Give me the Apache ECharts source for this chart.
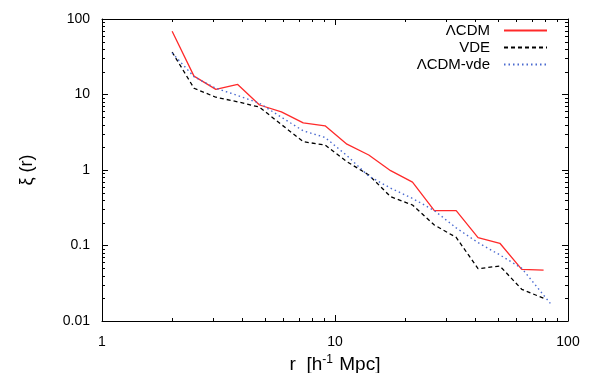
<!DOCTYPE html>
<html>
<head>
<meta charset="utf-8">
<script src="https://cdn.jsdelivr.net/npm/echarts@6.0.0/dist/echarts.min.js"></script>
<style>
html,body{margin:0;padding:0;background:#fff;}
#chart{width:594px;height:373px;}
</style>
</head>
<body>
<div id="chart"></div>
<script>
// r bins [h^-1 Mpc]
var rBins = [2, 2.482, 3.080, 3.823, 4.744, 5.887, 7.306, 9.067, 11.25, 13.96, 17.33, 21.51, 26.69, 33.12, 41.10, 51.01, 63.30, 78.56];
var xiLCDM = [69, 17.5, 11.7, 13.6, 7.26, 5.9, 4.2, 3.85, 2.2, 1.58, 0.98, 0.69, 0.289, 0.289, 0.127, 0.107, 0.0484, 0.0473];
var xiVDE = [36.5, 12.1, 9.2, 8.0, 6.8, 4.0, 2.37, 2.14, 1.29, 0.86, 0.443, 0.344, 0.187, 0.128, 0.0493, 0.0535, 0.0263, 0.0200];
var rBinsVde = [2, 2.482, 3.080, 3.823, 4.744, 5.887, 7.306, 9.067, 11.25, 13.96, 17.33, 21.51, 26.69, 33.12, 41.10, 51.01, 63.30, 84];
var xiLCDMvde = [35.5, 17.2, 12.1, 9.7, 7.64, 5.0, 3.3, 2.7, 1.55, 0.83, 0.575, 0.42, 0.29, 0.171, 0.109, 0.075, 0.050, 0.0171];
var xTickLabels = [1, 10, 100];
var yTickLabels = [0.01, 0.1, 1, 10, 100];
var xMinorTicks = [2, 3, 4, 5, 6, 7, 8, 9, 20, 30, 40, 50, 60, 70, 80, 90];
var yMinorTicks = [0.02, 0.03, 0.04, 0.05, 0.06, 0.07, 0.08, 0.09, 0.2, 0.3, 0.4, 0.5, 0.6, 0.7, 0.8, 0.9,
                   2, 3, 4, 5, 6, 7, 8, 9, 20, 30, 40, 50, 60, 70, 80, 90];
var seriesNames = ['\u039bCDM', 'VDE', '\u039bCDM-vde'];

function pairs(xs, ys) { return xs.map(function (x, i) { return [x, ys[i]]; }); }

var FONT = '"Liberation Sans", Arial, Helvetica, sans-serif';
var X_MIN = 1, X_MAX = 100, Y_MIN = 0.01, Y_MAX = 100, MINOR_LEN = 3;
var chart = echarts.init(document.getElementById('chart'), null, {renderer: 'canvas'});

function majorAxisX(pos, showLabel, withName) {
  var a = {
    type: 'log', logBase: 10, min: X_MIN, max: X_MAX, position: pos,
    axisLine: {show: true, onZero: false, lineStyle: {color: '#000', width: 1}},
    axisTick: {show: true, inside: true, length: 6, lineStyle: {color: '#000', width: 1}},
    axisLabel: {show: showLabel, color: '#000', fontSize: 14, fontFamily: FONT, margin: 14,
      formatter: function (v) { return String(v); }},
    splitLine: {show: false}, minorTick: {show: false}
  };
  if (withName) {
    a.name = '{a|r  [h}{s|-1}{a| Mpc]}';
    a.nameLocation = 'middle';
    a.nameGap = 27;
    a.nameTextStyle = {color: '#000', fontFamily: FONT, fontSize: 19,
      rich: {a: {fontSize: 19, fontFamily: FONT, color: '#000'},
             s: {fontSize: 12, fontFamily: FONT, color: '#000', padding: [0, 1, 10, 0]}}};
  }
  return a;
}
function majorAxisY(pos, showLabel, withName) {
  var a = {
    type: 'log', logBase: 10, min: Y_MIN, max: Y_MAX, position: pos,
    axisLine: {show: true, onZero: false, lineStyle: {color: '#000', width: 1}},
    axisTick: {show: true, inside: true, length: 6, lineStyle: {color: '#000', width: 1}},
    axisLabel: {show: showLabel, color: '#000', fontSize: 14, fontFamily: FONT, margin: 12,
      formatter: function (v) { return String(v); }},
    splitLine: {show: false}, minorTick: {show: false}
  };
  if (withName) {
    a.name = '\u03be (r)';
    a.nameLocation = 'middle';
    a.nameRotate = 90;
    a.nameGap = 66;
    a.nameTextStyle = {color: '#000', fontFamily: FONT, fontSize: 18};
  }
  return a;
}

function tickLine(x1, y1, x2, y2) {
  return {type: 'line', shape: {x1: x1, y1: y1, x2: x2, y2: y2}, style: {stroke: '#000', lineWidth: 1}};
}
// minor ticks, positioned through the log scales
function renderXMinor(params, api) {
  var v = api.value(0);
  var b = api.coord([v, Y_MIN]);
  var t = api.coord([v, Y_MAX]);
  var x = Math.round(b[0]) + 0.5;
  return {type: 'group', children: [
    tickLine(x, b[1], x, b[1] - MINOR_LEN),
    tickLine(x, t[1], x, t[1] + MINOR_LEN)
  ]};
}
function renderYMinor(params, api) {
  var v = api.value(1);
  var l = api.coord([X_MIN, v]);
  var r = api.coord([X_MAX, v]);
  var y = Math.round(l[1]) + 0.5;
  return {type: 'group', children: [
    tickLine(l[0], y, l[0] + MINOR_LEN, y),
    tickLine(r[0], y, r[0] - MINOR_LEN, y)
  ]};
}

var option = {
  backgroundColor: '#fff',
  animation: false,
  grid: {left: 102, right: 26, top: 19, bottom: 52, containLabel: false, outerBoundsMode: 'none'},
  legend: {
    orient: 'vertical', right: 46, top: 23, align: 'right', padding: 0,
    itemWidth: 43, itemHeight: 14, itemGap: 2,
    itemStyle: {opacity: 0},
    textStyle: {color: '#000', fontSize: 15, fontFamily: FONT, padding: [0, 9, 0, 0]},
    data: seriesNames
  },
  xAxis: [majorAxisX('bottom', true, true), majorAxisX('top', false, false)],
  yAxis: [majorAxisY('left', true, true), majorAxisY('right', false, false)],
  series: [
    {type: 'custom', xAxisIndex: 0, yAxisIndex: 0, clip: false, silent: true, z: 1,
      data: xMinorTicks.map(function (v) { return [v, 1]; }), renderItem: renderXMinor},
    {type: 'custom', xAxisIndex: 0, yAxisIndex: 0, clip: false, silent: true, z: 1,
      data: yMinorTicks.map(function (v) { return [1, v]; }), renderItem: renderYMinor},
    {name: seriesNames[0], type: 'line', xAxisIndex: 0, yAxisIndex: 0, data: pairs(rBins, xiLCDM), z: 3,
      showSymbol: false, symbol: 'none', lineStyle: {color: '#ff2a2a', width: 1.3, type: 'solid'}, itemStyle: {color: '#ff2a2a'}},
    {name: seriesNames[1], type: 'line', xAxisIndex: 0, yAxisIndex: 0, data: pairs(rBins, xiVDE), z: 3,
      showSymbol: false, symbol: 'none', lineStyle: {color: '#000', width: 1.3, type: [4, 3]}, itemStyle: {color: '#000'}},
    {name: seriesNames[2], type: 'line', xAxisIndex: 0, yAxisIndex: 0, data: pairs(rBinsVde, xiLCDMvde), z: 3,
      showSymbol: false, symbol: 'none', lineStyle: {color: '#4a6ad0', width: 1.4, type: [1.5, 3]}, itemStyle: {color: '#4a6ad0'}}
  ]
};
chart.setOption(option);
</script>
</body>
</html>
